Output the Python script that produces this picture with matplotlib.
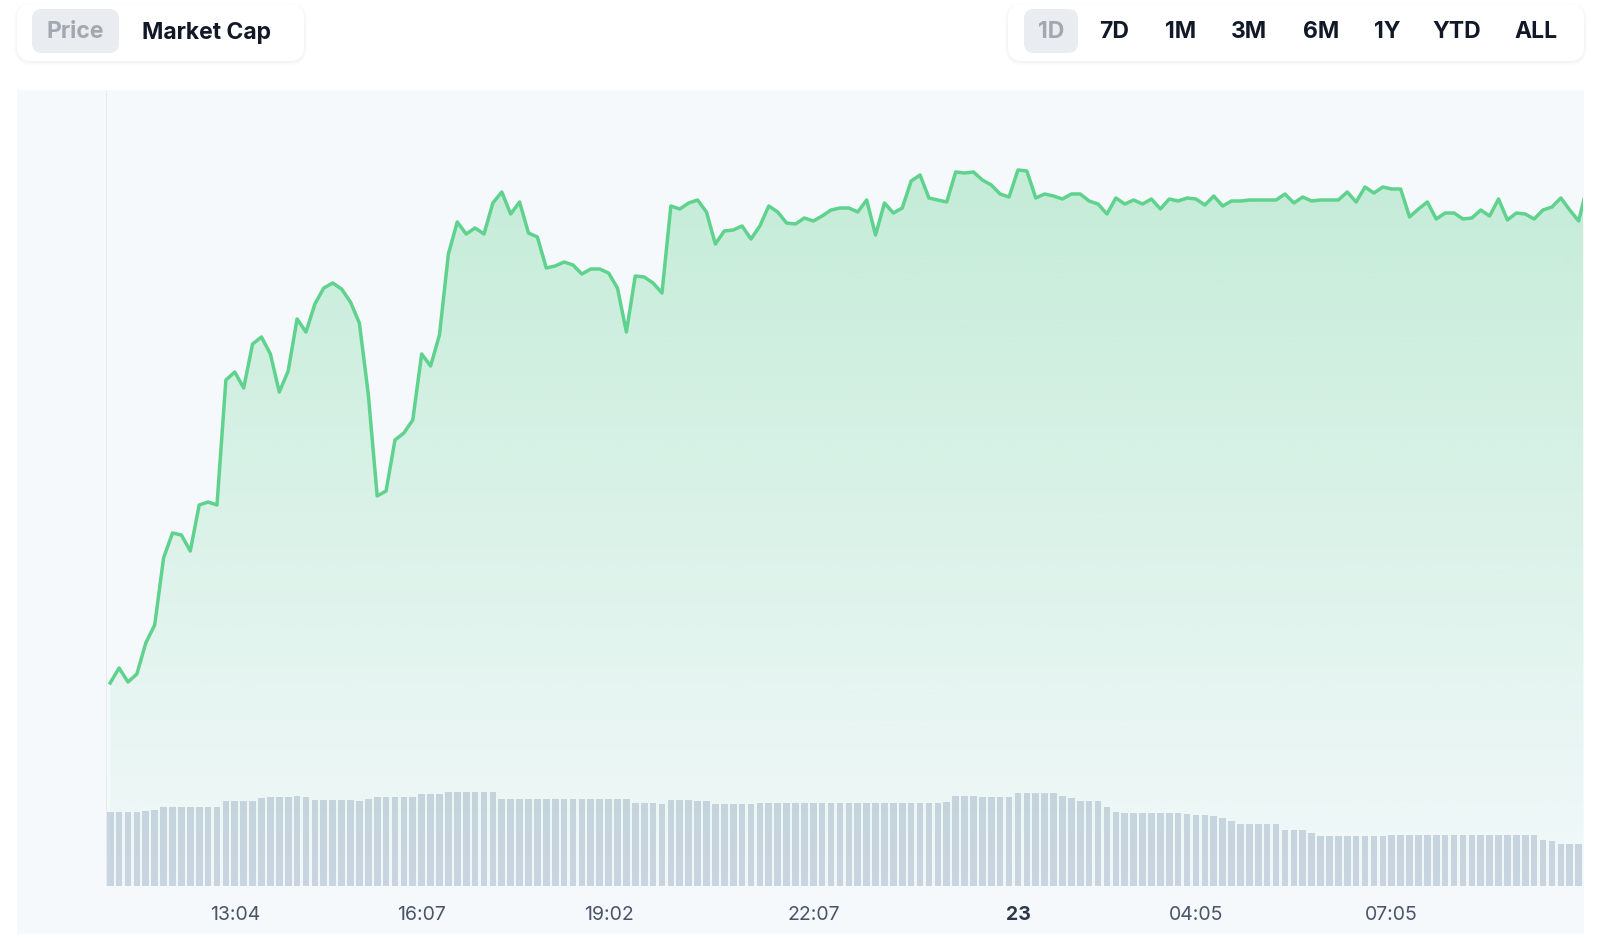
import numpy as np
import matplotlib
matplotlib.use("Agg")
import matplotlib.pyplot as plt
from matplotlib.patches import FancyBboxPatch, Rectangle, Polygon
from matplotlib.transforms import IdentityTransform

plt.rcParams["font.family"] = ["Inter", "DejaVu Sans"]

# price line, one point every ~9 minutes (arbitrary units)
price = [
    20.3, 21.8, 20.4, 21.2, 24.3, 26.1, 32.8, 35.3, 35.1, 33.5,
    38.1, 38.4, 38.1, 50.6, 51.4, 49.8, 54.2, 54.9, 53.2, 49.4,
    51.5, 56.7, 55.4, 58.2, 59.8, 60.3, 59.7, 58.4, 56.3, 49.2,
    39.0, 39.5, 44.6, 45.3, 46.6, 53.2, 52.0, 55.1, 63.2, 66.4,
    65.2, 65.8, 65.2, 68.3, 69.4, 67.2, 68.4, 65.3, 64.9, 61.8,
    62.0, 62.4, 62.1, 61.2, 61.7, 61.7, 61.3, 59.8, 55.4, 61.0,
    60.9, 60.3, 59.3, 68.0, 67.7, 68.3, 68.6, 67.4, 64.2, 65.5,
    65.6, 66.0, 64.7, 66.0, 68.0, 67.4, 66.3, 66.2, 66.8, 66.5,
    67.0, 67.6, 67.8, 67.8, 67.4, 68.6, 65.1, 68.3, 67.3, 67.8,
    70.5, 71.1, 68.8, 68.6, 68.4, 71.4, 71.3, 71.4, 70.6, 70.1,
    69.2, 68.9, 71.6, 71.5, 68.8, 69.2, 69.0, 68.7, 69.2, 69.2,
    68.5, 68.2, 67.2, 68.8, 68.2, 68.6, 68.2, 68.7, 67.7, 68.7,
    68.5, 68.8, 68.7, 68.1, 69.0, 68.0, 68.5, 68.5, 68.6, 68.6,
    68.6, 68.6, 69.2, 68.3, 68.9, 68.5, 68.6, 68.6, 68.6, 69.4,
    68.4, 69.9, 69.3, 69.9, 69.7, 69.7, 66.9, 67.7, 68.4, 66.7,
    67.3, 67.3, 66.7, 66.8, 67.6, 67.0, 68.7, 66.6, 67.3, 67.2,
    66.7, 67.6, 67.9, 68.8, 67.6, 66.5, 70.1,
]

volume = [
    7.37, 7.37, 7.37, 7.37, 7.47, 7.57, 7.93, 7.93, 7.93, 7.93,
    7.93, 7.93, 7.93, 8.50, 8.50, 8.50, 8.50, 8.77, 8.90, 8.90,
    8.90, 9.00, 8.90, 8.60, 8.60, 8.60, 8.60, 8.60, 8.50, 8.70,
    8.90, 8.90, 8.90, 8.90, 8.90, 9.17, 9.17, 9.17, 9.43, 9.43,
    9.43, 9.43, 9.43, 9.43, 8.70, 8.70, 8.70, 8.70, 8.70, 8.70,
    8.70, 8.70, 8.70, 8.70, 8.70, 8.70, 8.70, 8.70, 8.70, 8.30,
    8.30, 8.30, 8.20, 8.60, 8.60, 8.60, 8.50, 8.50, 8.20, 8.20,
    8.20, 8.20, 8.20, 8.30, 8.30, 8.30, 8.30, 8.30, 8.30, 8.30,
    8.30, 8.30, 8.30, 8.30, 8.30, 8.30, 8.30, 8.30, 8.30, 8.30,
    8.30, 8.30, 8.30, 8.30, 8.40, 9.00, 9.00, 9.00, 8.90, 8.90,
    8.90, 8.90, 9.27, 9.27, 9.27, 9.27, 9.27, 9.00, 8.80, 8.50,
    8.50, 8.50, 7.87, 7.40, 7.30, 7.30, 7.30, 7.30, 7.30, 7.30,
    7.30, 7.20, 7.10, 7.10, 7.00, 6.80, 6.53, 6.20, 6.20, 6.20,
    6.20, 6.20, 5.60, 5.60, 5.60, 5.30, 5.03, 5.03, 5.03, 5.03,
    5.03, 5.03, 5.03, 5.03, 5.13, 5.13, 5.13, 5.13, 5.13, 5.13,
    5.13, 5.13, 5.13, 5.13, 5.13, 5.13, 5.13, 5.13, 5.13, 5.13,
    5.13, 4.60, 4.50, 4.23, 4.23, 4.23,
]

tick_idx = [14, 35, 56, 79, 102, 122, 144]
tick_labels = ["13:04", "16:07", "19:02", "22:07", "23", "04:05", "07:05"]

modes = ["Price", "Market Cap"]
ranges = ["1D", "7D", "1M", "3M", "6M", "1Y", "YTD", "ALL"]

W, H = 1600, 953
GREEN = "#5fd28d"
BG = "#f5f9fc"

fig = plt.figure(figsize=(W / 100, H / 100), dpi=100)
fig.patch.set_facecolor("white")


def box(x0, y0, x1, y1, fc, r, z=1, alpha=1.0):
    # pixel box, y measured from the top
    p = FancyBboxPatch((x0, H - y1), x1 - x0, y1 - y0,
                       boxstyle="round,pad=0,rounding_size=%g" % r,
                       fc=fc, ec="none", alpha=alpha,
                       transform=IdentityTransform(), zorder=z)
    fig.add_artist(p)


def label(x, y, s, **kw):
    fig.text(x / W, 1 - y / H, s, ha="center", va="center", **kw)


# button bars with a soft shadow
for (x0, x1) in [(17, 304), (1008, 1584)]:
    for k in range(4):
        box(x0 - k, 5 - k + 2, x1 + k, 62 + k + 1, "#000000", 14 + k, z=0, alpha=0.012)
    box(x0, 5, x1, 62, "white", 14, z=1)

box(32, 10, 119, 54, "#e9ecf1", 10, z=2)
box(1024, 10, 1078, 54, "#e9ecf1", 10, z=2)

label(75, 32.5, modes[0], fontsize=16.5, fontweight="bold", color="#a3a8b0", zorder=3)
label(207, 32.5, modes[1], fontsize=16.5, fontweight="bold", color="#111827", zorder=3)
for s, x in zip(ranges, [1051, 1114, 1181, 1249, 1321, 1387, 1457, 1536]):
    c = "#a3a8b0" if s == "1D" else "#111827"
    label(x, 32.5, s, fontsize=16.5, fontweight="bold", color=c, zorder=3)

# chart panel background
fig.add_artist(Rectangle((17, H - 935), 1584 - 17, 935 - 91, fc=BG, ec="none",
                         transform=IdentityTransform(), zorder=0))

ax = fig.add_axes([106 / W, 1 - 887 / H, (1583 - 106) / W, (887 - 92) / H])
ax.set_facecolor("none")
x = np.arange(len(price))
ax.set_xlim(-0.47, 165.49)
ax.set_ylim(0, 79.5)

# gradient fill under the price line
verts = list(zip(x, price)) + [(x[-1], 0), (x[0], 0)]
poly = Polygon(verts, closed=True, fc="none", ec="none")
ax.add_patch(poly)
grad = np.zeros((256, 1, 4))
grad[:, 0, :3] = matplotlib.colors.to_rgb(GREEN)
grad[:, 0, 3] = np.linspace(0.36, 0.02, 256)
img = ax.imshow(grad, extent=[-0.47, 165.49, 0, 79.5], aspect="auto",
                origin="upper", zorder=1, interpolation="bilinear")
img.set_clip_path(poly)
ax.plot(x, price, color=GREEN, lw=2.5, zorder=4, solid_joinstyle="round")

# volume bars on their own scale
vx = ax.twinx()
vx.set_ylim(0, 79.5)
vx.bar(np.arange(len(volume)), volume, width=0.75, color="#cbd5e1", zorder=2)
vx.set_yticks([])
ax.set_zorder(vx.get_zorder() + 1)
ax.patch.set_visible(False)

for a in (ax, vx):
    for sp in a.spines.values():
        sp.set_visible(False)
ax.axvline(-0.47, color="#e3e8ef", lw=1.2, zorder=0)
ax.set_yticks([])
ax.set_xticks(tick_idx)
ax.set_xticklabels(tick_labels, fontsize=14, color="#4a5568")
ax.tick_params(axis="x", length=0, pad=14)
for t in ax.get_xticklabels():
    if t.get_text() == "23":
        t.set_fontweight("bold")
        t.set_color("#2d3748")

fig.savefig("out.png", dpi=100)
